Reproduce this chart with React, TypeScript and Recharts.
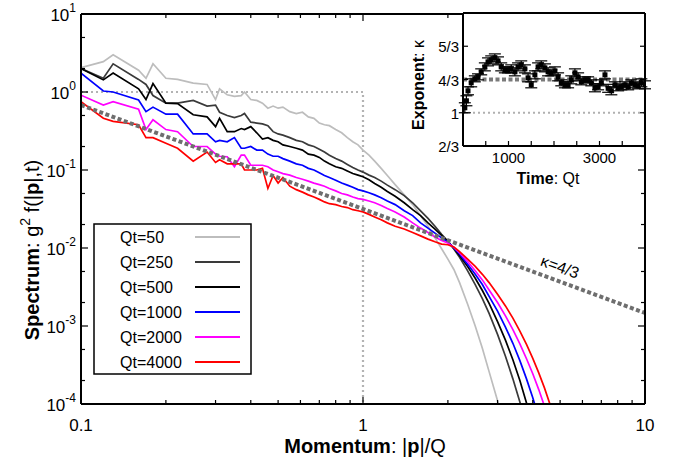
import {
  LineChart,
  Line,
  XAxis,
  YAxis,
  ScatterChart,
  Scatter,
  ErrorBar,
  ReferenceLine,
  CartesianGrid,
} from "recharts";

const FONT = '"Liberation Sans", Arial, Helvetica, sans-serif';

// momentum grid |p|/Q shared by the spectra
const P = [
  0.1, 0.12, 0.13, 0.16, 0.17, 0.18, 0.2, 0.22, 0.25, 0.28,
  0.3, 0.31, 0.33, 0.35, 0.37, 0.38, 0.4, 0.42, 0.44, 0.46,
  0.48, 0.5, 0.52, 0.55, 0.58, 0.61, 0.64, 0.67, 0.7, 0.73,
  0.76, 0.8, 0.84, 0.88, 0.92, 0.96, 1.0, 1.05, 1.1, 1.16,
  1.22, 1.3, 1.4, 1.5, 1.6, 1.7, 1.8, 1.9, 2.0, 2.1,
  2.2, 2.35, 2.5, 2.65, 2.8, 3.0, 3.2, 3.4, 3.6, 3.8,
  4.0, 4.2, 4.4, 4.6, 4.8,
];

const QT50 = [
  2.05, 2.45, 3.0, 1.9, 1.5, 2.3, 1.5, 1.45, 1.3, 1.25,
  0.8, 1.1, 0.92, 0.88, 0.9, 1.0, 0.8, 0.78, 0.72, 0.62,
  0.66, 0.62, 0.64, 0.56, 0.53, 0.55, 0.48, 0.46, 0.4, 0.38,
  0.37, 0.33, 0.3, 0.26, 0.23, 0.21, 0.18, 0.155, 0.13, 0.105,
  0.085, 0.065, 0.048, 0.036, 0.026, 0.019, 0.0135, 0.0098, 0.0072, 0.0053,
  0.0036, 0.0019, 0.001, 0.00052, 0.00026, 0.00011, 0.00005, null, null, null,
  null, null, null, null, null,
];
const QT250 = [
  2.0, 1.5, 2.3, 1.45, 1.25, 0.9, 0.72, 0.72, 0.78, 0.66,
  0.68, 0.55, 0.5, 0.47, 0.5, 0.53, 0.41, 0.4, 0.39, 0.37,
  0.31, 0.29, 0.28, 0.26, 0.24, 0.23, 0.21, 0.2, 0.185, 0.17,
  0.155, 0.14, 0.13, 0.118, 0.108, 0.1, 0.094, 0.086, 0.08, 0.072,
  0.064, 0.056, 0.047, 0.038, 0.03, 0.024, 0.019, 0.015, 0.0122, 0.0097,
  0.0076, 0.0051, 0.0034, 0.00225, 0.00145, 0.00078, 0.00041, 0.00021, 0.000106, 0.000054,
  null, null, null, null, null,
];
const QT500 = [
  2.0, 1.43, 1.75, 1.1, 0.8, 1.28, 0.72, 0.71, 0.51, 0.48,
  0.36, 0.46, 0.31, 0.31, 0.34, 0.33, 0.36, 0.3, 0.25, 0.26,
  0.24, 0.23, 0.21, 0.2, 0.19, 0.18, 0.16, 0.155, 0.145, 0.13,
  0.12, 0.11, 0.105, 0.097, 0.09, 0.086, 0.082, 0.075, 0.067, 0.06,
  0.053, 0.046, 0.038, 0.031, 0.026, 0.021, 0.0175, 0.0145, 0.0121, 0.0099,
  0.008, 0.0058, 0.0041, 0.00285, 0.00195, 0.00114, 0.00066, 0.00037, 0.0002, 0.000103,
  0.000054, null, null, null, null,
];
const QT1000 = [
  1.75, 1.03, 1.0, 0.79, 0.56, 0.64, 0.52, 0.52, 0.29, 0.29,
  0.23, 0.24, 0.23, 0.26, 0.19, 0.19, 0.2, 0.18, 0.18, 0.16,
  0.15, 0.15, 0.14, 0.13, 0.12, 0.115, 0.105, 0.1, 0.092, 0.085,
  0.08, 0.074, 0.068, 0.064, 0.06, 0.056, 0.054, 0.051, 0.048, 0.044,
  0.04, 0.036, 0.03, 0.026, 0.021, 0.018, 0.0155, 0.0135, 0.0119, 0.01,
  0.0084, 0.0062, 0.0046, 0.0034, 0.0024, 0.00155, 0.00097, 0.0006, 0.00036, 0.00021,
  0.00012, 0.000067, null, null, null,
];
const QT2000 = [
  0.91, 0.68, 0.75, 0.6, 0.33, 0.44, 0.33, 0.31, 0.2, 0.2,
  0.16, 0.15, 0.148, 0.11, 0.155, 0.155, 0.115, 0.115, 0.115, 0.11,
  0.1, 0.095, 0.09, 0.086, 0.08, 0.076, 0.072, 0.068, 0.065, 0.062,
  0.058, 0.054, 0.05, 0.048, 0.045, 0.043, 0.042, 0.04, 0.038, 0.035,
  0.032, 0.029, 0.025, 0.021, 0.018, 0.0158, 0.0138, 0.0125, 0.0116, 0.0102,
  0.0087, 0.0067, 0.0051, 0.0039, 0.0029, 0.002, 0.00135, 0.0009, 0.00059, 0.00038,
  0.000244, 0.000153, 0.000094, 0.000056, null,
];
const QT4000 = [
  0.75, 0.46, 0.42, 0.38, 0.26, 0.26, 0.22, 0.19, 0.13, 0.17,
  0.125, 0.135, 0.12, 0.12, 0.12, 0.1, 0.1, 0.1, 0.105, 0.058,
  0.085, 0.068, 0.08, 0.062, 0.056, 0.052, 0.048, 0.045, 0.042, 0.039,
  0.037, 0.036, 0.034, 0.033, 0.031, 0.03, 0.029, 0.027, 0.025, 0.023,
  0.021, 0.019, 0.0175, 0.0158, 0.0143, 0.013, 0.012, 0.0112, 0.011, 0.0103,
  0.009, 0.0072, 0.0058, 0.0046, 0.0036, 0.00256, 0.00181, 0.00126, 0.00086, 0.00058,
  0.000385, 0.000251, 0.000161, 0.0001, 0.000065,
];

const SERIES = [
  { key: "qt50", label: "Qt=50", color: "#bdbdbd", values: QT50 },
  { key: "qt250", label: "Qt=250", color: "#3a3a3a", values: QT250 },
  { key: "qt500", label: "Qt=500", color: "#000000", values: QT500 },
  { key: "qt1000", label: "Qt=1000", color: "#0000ff", values: QT1000 },
  { key: "qt2000", label: "Qt=2000", color: "#ff00ff", values: QT2000 },
  { key: "qt4000", label: "Qt=4000", color: "#ff0000", values: QT4000 },
];

// initial box spectrum and the kappa=4/3 power law guide
const STEP_P = [0.1, 1, 1];
const STEP_F = [1, 1, 1e-4];
const GUIDE_P = [0.1, 10];
const GUIDE_F = [0.68, 0.00147];

const X_TICKS = [0.1, 0.2, 0.3, 0.4, 0.5, 0.6, 0.7, 0.8, 0.9, 1, 2, 3, 4, 5, 6, 7, 8, 9, 10];
const Y_TICKS = [1e-4, 2e-4, 5e-4, 1e-3, 2e-3, 5e-3, 0.01, 0.02, 0.05, 0.1, 0.2, 0.5, 1, 2, 5, 10];

// inset: fitted exponent vs time
const TIME = [
  40, 75, 110, 180, 260, 330, 400, 480, 550, 620,
  700, 770, 840, 920, 990, 1060, 1140, 1210, 1280, 1360,
  1430, 1500, 1580, 1650, 1720, 1800, 1870, 1940, 2020, 2090,
  2160, 2240, 2310, 2380, 2460, 2530, 2600, 2680, 2750, 2820,
  2900, 2970, 3040, 3120, 3190, 3260, 3340, 3410, 3480, 3560,
  3630, 3700, 3780, 3850, 3920, 4000,
];
const KAPPA = [
  1.05, 1.12, 1.22, 1.3, 1.34, 1.36, 1.41, 1.46, 1.51, 1.53,
  1.55, 1.52, 1.46, 1.43, 1.43, 1.44, 1.41, 1.46, 1.48, 1.44,
  1.35, 1.28, 1.38, 1.46, 1.48, 1.45, 1.41, 1.4, 1.42, 1.36,
  1.3, 1.28, 1.28, 1.33, 1.4, 1.36, 1.31, 1.33, 1.33, 1.3,
  1.25, 1.26, 1.3, 1.38, 1.245, 1.22, 1.28, 1.25, 1.26, 1.28,
  1.26, 1.3, 1.28, 1.27, 1.3, 1.28,
];
const KAPPA_ERR = [
  0.05, 0.05, 0.04, 0.04, 0.03, 0.03, 0.03, 0.04, 0.04, 0.04,
  0.04, 0.04, 0.04, 0.03, 0.03, 0.04, 0.04, 0.04, 0.04, 0.04,
  0.04, 0.03, 0.04, 0.04, 0.04, 0.04, 0.04, 0.03, 0.04, 0.04,
  0.03, 0.03, 0.03, 0.04, 0.04, 0.04, 0.03, 0.03, 0.03, 0.03,
  0.04, 0.03, 0.03, 0.04, 0.04, 0.04, 0.03, 0.03, 0.03, 0.03,
  0.03, 0.03, 0.03, 0.03, 0.04, 0.04,
];
const KAPPA_TURB = 4 / 3;
const KAPPA_THERMAL = 1;
const T_TICKS = [0, 500, 1000, 1500, 2000, 2500, 3000, 3500, 4000];
const T_LABELS = [1000, 3000];
const K_TICKS = [2 / 3, 1, 4 / 3, 5 / 3];
const K_LABELS = ["2/3", "1", "4/3", "5/3"];

const rows = P.map((p, i) => {
  const r: Record<string, number | null> = { p };
  SERIES.forEach((s) => (r[s.key] = s.values[i] ?? null));
  return r;
});
const step = STEP_P.map((p, i) => ({ p, f: STEP_F[i] }));
const guide = GUIDE_P.map((p, i) => ({ p, f: GUIDE_F[i] }));
const kappaRows = TIME.map((t, i) => ({ t, k: KAPPA[i], err: KAPPA_ERR[i] }));

const isDecade = (v: number) => Math.abs(Math.log10(v) - Math.round(Math.log10(v))) < 1e-6;

function BottomLogTick({ x, y, payload }: any) {
  const v = payload.value;
  const major = isDecade(v);
  return (
    <g>
      <line x1={x} x2={x} y1={y} y2={y - (major ? 7 : 4)} stroke="#000" strokeWidth={1.2} />
      {major && (
        <text x={x} y={y + 27} textAnchor="middle" fontSize={17} fontFamily={FONT} fill="#000">
          {String(v)}
        </text>
      )}
    </g>
  );
}

function TopLogTick({ x, y, payload }: any) {
  const major = isDecade(payload.value);
  return <line x1={x} x2={x} y1={y} y2={y + (major ? 7 : 4)} stroke="#000" strokeWidth={1.2} />;
}

function LeftLogTick({ x, y, payload }: any) {
  const v = payload.value;
  const major = isDecade(v);
  const e = Math.round(Math.log10(v));
  return (
    <g>
      <line x1={x} x2={x + (major ? 7 : 4)} y1={y} y2={y} stroke="#000" strokeWidth={1.2} />
      {major && (
        <text x={x - 5} y={y + 7} textAnchor="end" fontSize={17} fontFamily={FONT} fill="#000">
          10
          <tspan dy={-9} fontSize={12}>
            {String(e)}
          </tspan>
        </text>
      )}
    </g>
  );
}

function RightLogTick({ x, y, payload }: any) {
  const major = isDecade(payload.value);
  return <line x1={x} x2={x - (major ? 7 : 4)} y1={y} y2={y} stroke="#000" strokeWidth={1.2} />;
}

function InsetBottomTick({ x, y, payload }: any) {
  const v = payload.value;
  return (
    <g>
      <line x1={x} x2={x} y1={y} y2={y - 5} stroke="#000" strokeWidth={1.2} />
      {T_LABELS.includes(v) && (
        <text x={x} y={y + 17} textAnchor="middle" fontSize={15} fontFamily={FONT} fill="#000">
          {String(v)}
        </text>
      )}
    </g>
  );
}

function InsetTopTick({ x, y }: any) {
  return <line x1={x} x2={x} y1={y} y2={y + 5} stroke="#000" strokeWidth={1.2} />;
}

function InsetLeftTick({ x, y, index }: any) {
  return (
    <g>
      <line x1={x} x2={x + 5} y1={y} y2={y} stroke="#000" strokeWidth={1.2} />
      <text x={x - 4} y={y + 6} textAnchor="end" fontSize={15} fontFamily={FONT} fill="#000">
        {K_LABELS[index]}
      </text>
    </g>
  );
}

function InsetRightTick({ x, y }: any) {
  return <line x1={x} x2={x - 5} y1={y} y2={y} stroke="#000" strokeWidth={1.2} />;
}

function SquareDot({ cx, cy }: any) {
  return <rect x={cx - 2.5} y={cy - 2.5} width={5} height={5} fill="#000" />;
}

const frame = { stroke: "#000", strokeWidth: 2 };

export default function App() {
  return (
    <div style={{ position: "absolute", left: 0, top: 0, width: 677, height: 461, background: "#fff" }}>
      <div style={{ position: "absolute", left: 0, top: 0 }}>
        <LineChart width={677} height={461} data={rows} margin={{ top: 13, right: 31, bottom: 26, left: 21 }}>
          <XAxis
            dataKey="p"
            type="number"
            scale="log"
            domain={[0.1, 10]}
            allowDataOverflow
            ticks={X_TICKS}
            interval={0}
            tickSize={0}
            tickMargin={0}
            tickLine={false}
            axisLine={frame}
            tick={BottomLogTick}
            height={31}
          />
          <XAxis
            xAxisId="top"
            orientation="top"
            dataKey="p"
            type="number"
            scale="log"
            domain={[0.1, 10]}
            allowDataOverflow
            ticks={X_TICKS}
            interval={0}
            tickSize={0}
            tickMargin={0}
            tickLine={false}
            axisLine={frame}
            tick={TopLogTick}
            height={1}
          />
          <YAxis
            type="number"
            scale="log"
            domain={[1e-4, 10]}
            allowDataOverflow
            ticks={Y_TICKS}
            interval={0}
            tickSize={0}
            tickMargin={0}
            tickLine={false}
            axisLine={frame}
            tick={LeftLogTick}
            width={60}
          />
          <YAxis
            yAxisId="right"
            orientation="right"
            type="number"
            scale="log"
            domain={[1e-4, 10]}
            allowDataOverflow
            ticks={Y_TICKS}
            interval={0}
            tickSize={0}
            tickMargin={0}
            tickLine={false}
            axisLine={frame}
            tick={RightLogTick}
            width={1}
          />
          <Line
            data={step}
            dataKey="f"
            stroke="#b3b3b3"
            strokeWidth={2.2}
            strokeDasharray="2 3"
            dot={false}
            isAnimationActive={false}
          />
          {SERIES.map((s) => (
            <Line
              key={s.key}
              dataKey={s.key}
              stroke={s.color}
              strokeWidth={1.7}
              dot={false}
              isAnimationActive={false}
            />
          ))}
          <Line
            data={guide}
            dataKey="f"
            stroke="#6e6e6e"
            strokeWidth={4}
            strokeDasharray="4 2.5"
            dot={false}
            isAnimationActive={false}
          />
        </LineChart>
      </div>

      <div style={{ position: "absolute", left: 400, top: 0 }}>
        <ScatterChart width={277} height={190} margin={{ top: 12, right: 31, bottom: 14, left: 13 }}>
          <CartesianGrid fill="#fff" horizontal={false} vertical={false} />
          <XAxis
            dataKey="t"
            type="number"
            domain={[0, 4000]}
            allowDataOverflow
            ticks={T_TICKS}
            interval={0}
            tickSize={0}
            tickMargin={0}
            tickLine={false}
            axisLine={frame}
            tick={InsetBottomTick}
            height={30}
          />
          <XAxis
            xAxisId="top"
            orientation="top"
            type="number"
            domain={[0, 4000]}
            allowDataOverflow
            ticks={T_TICKS}
            interval={0}
            tickSize={0}
            tickMargin={0}
            tickLine={false}
            axisLine={frame}
            tick={InsetTopTick}
            height={1}
          />
          <YAxis
            dataKey="k"
            type="number"
            domain={[2 / 3, 2]}
            allowDataOverflow
            ticks={K_TICKS}
            interval={0}
            tickSize={0}
            tickMargin={0}
            tickLine={false}
            axisLine={frame}
            tick={InsetLeftTick}
            width={50}
          />
          <YAxis
            yAxisId="right"
            orientation="right"
            type="number"
            domain={[2 / 3, 2]}
            allowDataOverflow
            ticks={K_TICKS}
            interval={0}
            tickSize={0}
            tickMargin={0}
            tickLine={false}
            axisLine={frame}
            tick={InsetRightTick}
            width={1}
          />
          <ReferenceLine y={KAPPA_THERMAL} stroke="#b0b0b0" strokeWidth={2.2} strokeDasharray="2 3" />
          <ReferenceLine y={KAPPA_TURB} stroke="#7a7a7a" strokeWidth={4} strokeDasharray="4 2.5" />
          <Scatter data={kappaRows} shape={SquareDot} isAnimationActive={false}>
            <ErrorBar dataKey="err" direction="y" width={6} stroke="#000" strokeWidth={1.2} isAnimationActive={false} />
          </Scatter>
        </ScatterChart>
      </div>

      <svg
        width={677}
        height={461}
        style={{ position: "absolute", left: 0, top: 0, pointerEvents: "none" }}
        fontFamily={FONT}
      >
        <rect x={94} y={224} width={157} height={150} fill="#fff" stroke="#000" strokeWidth={1.5} />
        {SERIES.map((s, i) => (
          <g key={s.key}>
            <text x={120} y={243 + 25 * i} fontSize={16} fill="#000">
              {s.label}
            </text>
            <line x1={195} x2={240} y1={237 + 25 * i} y2={237 + 25 * i} stroke={s.color} strokeWidth={2} />
          </g>
        ))}
        <text x={365} y={453} textAnchor="middle" fontSize={20} fill="#000">
          <tspan fontWeight="bold">Momentum</tspan>: |<tspan fontWeight="bold">p</tspan>|/Q
        </text>
        <text transform="translate(39 250) rotate(-90)" textAnchor="middle" fontSize={20} fill="#000">
          <tspan fontWeight="bold">Spectrum</tspan>: g
          <tspan dy={-9} fontSize={14}>
            2
          </tspan>
          <tspan dy={9}> f(|</tspan>
          <tspan fontWeight="bold">p</tspan>|,t)
        </text>
        <text transform="translate(424 85) rotate(-90)" textAnchor="middle" fontSize={16} fill="#000">
          <tspan fontWeight="bold">Exponent</tspan>: κ
        </text>
        <text x={548} y={184} textAnchor="middle" fontSize={16} fill="#000">
          <tspan fontWeight="bold">Time</tspan>: Qt
        </text>
        <text transform="translate(558 272) rotate(20)" textAnchor="middle" fontSize={16} fill="#000">
          κ=4/3
        </text>
      </svg>
    </div>
  );
}
